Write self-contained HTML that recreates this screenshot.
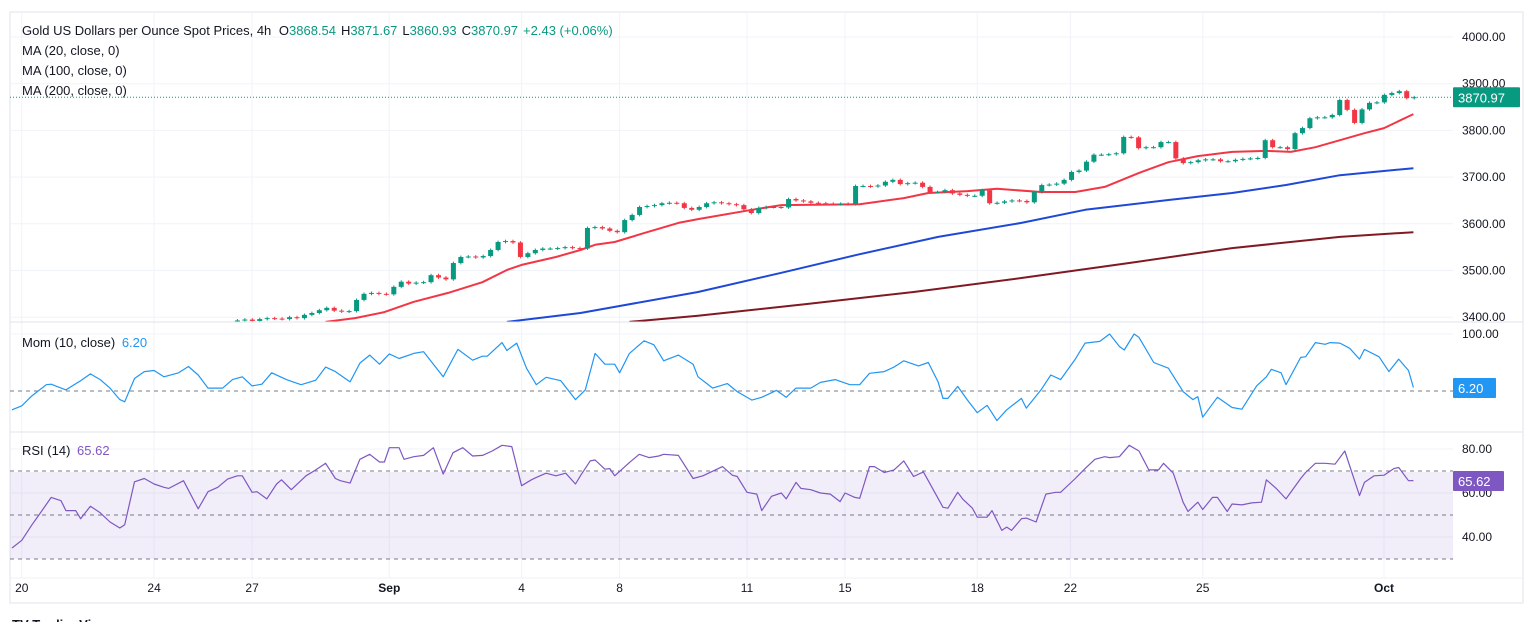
<!DOCTYPE html>
<html><head><meta charset="utf-8"><style>
html,body{margin:0;padding:0;background:#fff;}
svg{display:block;font-family:"Liberation Sans",sans-serif;}
</style></head><body>
<svg id="chart" width="1536" height="622" viewBox="0 0 1536 622">
<rect x="10" y="12" width="1513" height="591" fill="#fff" stroke="#e0e3eb"/>
<defs>
<clipPath id="mainClip"><rect x="10" y="12" width="1443" height="310"/></clipPath>
<clipPath id="momClip"><rect x="10" y="323" width="1443" height="108"/></clipPath>
</defs>
<g id="grid"></g>
<rect x="10" y="472" width="1443" height="87" fill="rgba(126,87,194,0.1)"/>
<g id="main" clip-path="url(#mainClip)"></g>
<g id="mom" clip-path="url(#momClip)"></g>
<g id="rsi"></g>
<g id="axes"></g>
<line x1="10" y1="322" x2="1523" y2="322" stroke="#e0e3eb"/>
<line x1="10" y1="432" x2="1523" y2="432" stroke="#e0e3eb"/>
<line x1="10" y1="578" x2="1523" y2="578" stroke="#eef0f4"/>
<text x="22" y="35" font-size="13" fill="#131722">Gold US Dollars per Ounce Spot Prices, 4h <tspan dx="4">O</tspan><tspan fill="#089981">3868.54</tspan><tspan dx="5">H</tspan><tspan fill="#089981">3871.67</tspan><tspan dx="5">L</tspan><tspan fill="#089981">3860.93</tspan><tspan dx="5">C</tspan><tspan fill="#089981">3870.97</tspan><tspan dx="5" fill="#089981">+2.43 (+0.06%)</tspan></text>
<text x="22" y="55" font-size="13" fill="#131722">MA (20, close, 0)</text>
<text x="22" y="75" font-size="13" fill="#131722">MA (100, close, 0)</text>
<text x="22" y="95" font-size="13" fill="#131722">MA (200, close, 0)</text>
<text x="22" y="347" font-size="13" fill="#131722">Mom (10, close) <tspan fill="#2196f3" dx="3">6.20</tspan></text>
<text x="22" y="455" font-size="13" fill="#131722">RSI (14) <tspan fill="#7e57c2" dx="3">65.62</tspan></text>
<text x="12" y="629" font-size="13" font-weight="bold" fill="#131722">TV TradingView</text>
</svg>
<script>
// ---- data ----
const priceTicks = [4000,3900,3800,3700,3600,3500,3400];
const momTicks = [100];
const rsiTicks = [80,60,40];
const dateIdx = [2,29,49,77,104,124,150,170,197,216,243,280];
const dateLabels = ["20","24","27","Sep","4","8","11","15","18","22","25","Oct"];
const closes = [3393,3395,3392,3396,3398,3397,3396,3400,3398,
3405,3409,3415,3420,3414,3412,3413,3437,
3450,3452,3450,3449,3465,3476,3472,3474,
3475,3490,3485,3481,3516,3529,3530,3528,
3531,3544,3561,3563,3560,3529,3537,3544,
3547,3547,3548,3550,3548,3547,3591,3593,
3590,3585,3582,3608,3619,3636,3638,3640,
3644,3645,3644,3634,3630,3636,3644,3646,
3644,3642,3640,3631,3623,3634,3636,3636,
3635,3653,3650,3648,3645,3644,3643,3642,
3643,3642,3681,3681,3680,3682,3690,3694,
3685,3687,3688,3679,3668,3668,3672,3665,
3662,3660,3660,3672,3644,3645,3648,3650,
3649,3646,3668,3683,3684,3686,3694,3711,
3714,3733,3748,3748,3749,3751,3786,3785,
3762,3764,3764,3775,3775,3740,3730,3732,
3736,3738,3738,3734,3734,3737,3739,3740,
3741,3779,3764,3764,3760,3794,3805,3826,
3828,3828,3833,3865,3844,3816,3845,3859,
3860,3876,3880,3884,3869,3871];
const ma20Idx = [64,70,76,82,89,96,101,104,111,116,119,123,129,136,140,151,157,173,182,187,195,201,210,217,223,230,236,242,249,256,261,266,271,276,280,286];
const ma20Val = [3390,3398,3411,3433,3452,3475,3501,3512,3529,3544,3555,3561,3580,3602,3610,3630,3640,3642,3655,3666,3670,3675,3668,3668,3679,3709,3732,3745,3754,3756,3754,3764,3779,3794,3805,3835];
const ma100Idx = [101,116,125,140,157,173,189,206,219,236,249,260,271,286];
const ma100Val = [3390,3409,3426,3454,3495,3535,3572,3602,3630,3651,3666,3683,3704,3719];
const ma200Idx = [126,140,162,184,206,228,249,271,286];
const ma200Val = [3390,3403,3428,3454,3484,3516,3548,3572,3582];
const momIdx = [0,2,4,7,8,11,14,16,18,20,22,23,25,27,29,31,34,36,38,40,43,45,47,49,51,53,56,59,62,64,66,69,71,73,75,77,79,82,84,88,91,94,96,97,100,101,103,105,107,109,112,115,117,119,121,123,124,126,129,131,133,136,139,140,143,146,148,151,153,156,158,160,163,165,168,171,173,175,178,180,182,185,187,189,190,191,193,195,197,199,201,203,206,207,210,212,214,217,219,222,224,226,227,229,230,233,236,239,241,242,243,246,249,251,254,256,257,259,260,263,264,266,268,269,271,273,275,276,279,281,283,285,286];
const momVal = [-33,-26,-9,11,12,2,18,30,20,5,-15,-19,22,34,36,25,32,43,28,5,5,20,25,9,12,32,20,11,19,42,34,16,49,63,47,65,57,66,69,25,73,54,61,61,85,71,84,40,11,24,18,-15,2,66,47,47,32,66,88,81,53,63,47,25,5,13,-1,-16,-11,1,-11,5,5,15,20,11,11,31,34,42,53,44,50,16,-13,-13,8,-16,-38,-25,-52,-33,-13,-30,2,28,20,56,84,87,100,78,72,100,94,50,40,-1,-15,-10,-46,-11,-29,-32,9,25,38,32,11,59,60,85,82,85,84,75,56,73,60,34,56,36,6.2];
const rsiIdx = [0,2,4,6,8,10,11,13,14,16,18,20,22,23,25,27,29,31,32,35,38,40,42,44,46,47,49,50,52,54,55,57,60,62,64,66,67,69,71,73,75,76,77,79,80,82,84,86,88,90,92,94,96,98,100,102,104,106,107,109,111,113,115,116,118,119,121,122,123,126,128,130,132,133,136,139,141,145,147,148,150,152,153,155,157,158,160,161,163,165,167,169,170,172,173,175,176,178,180,182,184,186,187,190,191,193,194,196,197,199,200,202,203,204,206,207,209,211,213,214,217,219,221,223,224,226,228,230,232,234,235,237,239,240,242,243,245,246,248,249,251,253,255,256,258,260,263,264,266,268,270,272,275,276,278,280,282,283,285,286];
const rsiVal = [35,38.5,45.3,51.6,58,56.5,52,52,48.3,54,51,46.8,44.1,45.6,65.1,66.6,64.1,62.6,62.1,65.6,52.8,60.6,62.6,66.3,67.8,67.8,60.3,60.6,57.3,64.1,66,61.5,67.8,70.5,73.5,66.6,65.6,64.5,75.3,77.6,74.1,74.1,80.6,80.6,75.3,76.5,77.1,80.6,68.6,78.3,80.6,76.8,77.1,79.1,81.7,81.1,63.3,66,67.1,69,67.8,69,64.1,67.8,74.6,75,70.8,71.1,67.8,73.8,77.6,76.1,76.8,77.6,77.1,66.6,67.8,72,68.1,67.5,60.3,59.5,52,58.5,60,57.3,64.8,62.1,61.5,60,59.5,56.1,60,58,57.6,72,72,69.3,70.5,74.6,67.5,69.6,65.6,53.5,53.1,60.3,57.3,53.1,49,49,52,43,44.5,43,48.3,48.6,46.8,59.5,60.3,60.3,66.6,71.1,75.3,76.5,76.1,76.5,81.7,79.1,70.5,70.5,73.5,69,55.8,51.6,55.8,52.5,58,58,51.6,55,54.6,55.5,55.8,66,62.1,57.3,66.6,69.3,73.5,73.5,73.1,79.1,58.8,64.8,67.8,68.1,71.1,71.6,65.6,65.62];

// ---- scales ----
const X = i => 12 + i * 4.9;
const PY = p => 37 + (4000 - p) * 0.467;
const MY = v => 391 - v * 0.57;
const RY = v => 449 + (80 - v) * 2.2;
const NS = "http://www.w3.org/2000/svg";
function mk(tag, parent, attrs) {
  const e = document.createElementNS(NS, tag);
  for (const k in attrs) e.setAttribute(k, attrs[k]);
  parent.appendChild(e);
  return e;
}
const grid = document.getElementById('grid');
const axes = document.getElementById('axes');
const main = document.getElementById('main');
const mom = document.getElementById('mom');
const rsi = document.getElementById('rsi');

priceTicks.forEach(p => {
  const l = mk('line', grid, {x1:10, x2:1453, y1:PY(p), y2:PY(p), stroke:'#f0f3fa'});
  
  
  const t = mk('text', axes, {x:1462, y:PY(p)+4, 'font-size':12, fill:'#131722'});
  t.textContent = p.toFixed(2);
  
  
});
momTicks.forEach(v => {
  const l = mk('line', grid, {x1:10, x2:1453, y1:MY(v), y2:MY(v), stroke:'#f0f3fa'});
  
  
  const t = mk('text', axes, {x:1462, y:MY(v)+4, 'font-size':12, fill:'#131722'});
  t.textContent = v.toFixed(2);
  
  
});
rsiTicks.forEach(v => {
  const l = mk('line', grid, {x1:10, x2:1453, y1:RY(v), y2:RY(v), stroke:'#f0f3fa'});
  
  
  const t = mk('text', axes, {x:1462, y:RY(v)+4, 'font-size':12, fill:'#131722'});
  t.textContent = v.toFixed(2);
  
  
});
dateIdx.forEach((d, k) => {
  const l = mk('line', grid, {x1:X(d), x2:X(d), y1:12, y2:578, stroke:'#f0f3fa'});
  
  
  const bold = (dateLabels[k] === 'Sep' || dateLabels[k] === 'Oct');
  const t = mk('text', axes, {x:X(d), y:592, 'font-size':12, fill:'#131722', 'text-anchor':'middle', 'font-weight': bold ? 'bold' : 'normal'});
  t.textContent = dateLabels[k];
  
  
});

[[MY(0),'mom-zero-line'],[RY(70),'rsi-upper-band'],[RY(50),'rsi-middle-band'],[RY(30),'rsi-lower-band']].forEach(a => {
  const l = mk('line', grid, {x1:10, x2:1453, y1:a[0], y2:a[0], stroke:'#787b86', 'stroke-dasharray':'4 4', 'stroke-width':1});
  
  
});

const lp = mk('line', main, {x1:10, x2:1453, y1:PY(3870.97), y2:PY(3870.97), stroke:'#089981', 'stroke-dasharray':'1 2'});



function poly(parent, idx, vals, yf, color, w, name) {
  const pts = idx.map((d, k) => X(d).toFixed(1) + ',' + yf(vals[k]).toFixed(1)).join(' ');
  const e = mk('polyline', parent, {points:pts, fill:'none', stroke:color, 'stroke-width':w, 'stroke-linejoin':'round'});
  
  
}
poly(main, ma200Idx, ma200Val, PY, '#801922', 2, 'ma200-line');
poly(main, ma100Idx, ma100Val, PY, '#1e48d6', 2, 'ma100-line');
poly(main, ma20Idx, ma20Val, PY, '#f23645', 2, 'ma20-line');

closes.forEach((c, k) => {
  const o = k === 0 ? c - 2 : closes[k-1];
  const up = c >= o;
  const col = up ? '#089981' : '#f23645';
  const cx = X(46 + k * 1.52);
  const hi = Math.max(o, c) + 3, lo = Math.min(o, c) - 3;
  const g = mk('g', main, {});
  
  
  mk('line', g, {x1:cx, x2:cx, y1:PY(hi), y2:PY(lo), stroke:col, 'stroke-width':1});
  const top = PY(Math.max(o, c)), bot = PY(Math.min(o, c));
  mk('rect', g, {x:cx-2.5, y:top, width:5, height:Math.max(1, bot-top), fill:col});
});

poly(mom, momIdx, momVal, MY, '#2196f3', 1.2, 'momentum-line');
poly(rsi, rsiIdx, rsiVal, RY, '#7e57c2', 1.2, 'rsi-line');

function badge(y, txt, col, w, name) {
  const g = mk('g', axes, {});
  
  
  mk('rect', g, {x:1453, y:y-10, width:w, height:20, fill:col, rx:1});
  const t = mk('text', g, {x:1458, y:y+5, 'font-size':13, fill:'#fff'});
  t.textContent = txt;
}
badge(PY(3870.97), '3870.97', '#089981', 67, 'last-price-badge');
badge(388, '6.20', '#2196f3', 43, 'mom-value-badge');
badge(481, '65.62', '#7e57c2', 51, 'rsi-value-badge');
</script>
</body></html>
